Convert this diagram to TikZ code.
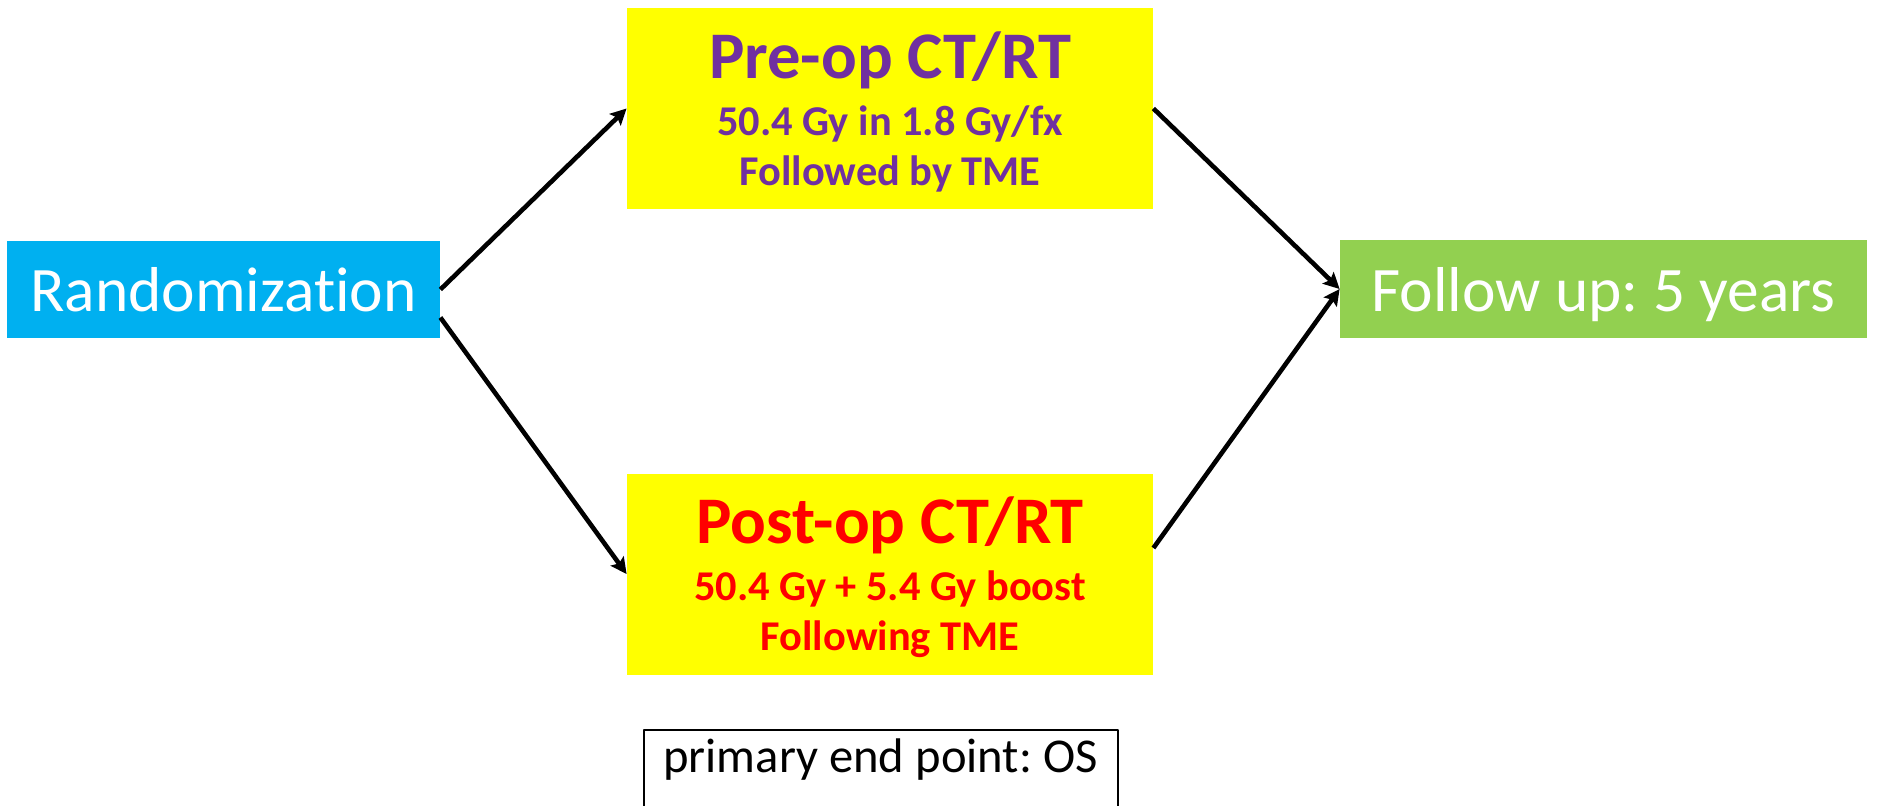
\documentclass[tikz,border=0pt]{standalone}
\usepackage{fontspec}
\setmainfont{Carlito}[Ligatures=NoCommon]
\usetikzlibrary{arrows.meta}
\definecolor{randblue}{HTML}{00B0F0}
\definecolor{fugreen}{HTML}{92D050}
\definecolor{armyellow}{HTML}{FFFF00}
\definecolor{prepurple}{HTML}{7030A0}
\definecolor{postred}{HTML}{FF0000}
\frenchspacing
\begin{document}
\begin{tikzpicture}[x=.5pt, y=-.5pt, line join=round, >={Stealth[length=8pt,width=8pt,inset=1.5pt]},
  bigbox/.style={inner sep=0pt, text=white, text depth=0pt, font=\fontsize{31.7}{38}\selectfont},
  arm/.style={inner sep=0pt, fill=armyellow, minimum width=263pt, minimum height=100.5pt},
  armtext/.style={align=center, font=\bfseries\fontsize{21.2}{25}\selectfont}]
\useasboundingbox (0,0) rectangle (1880,805);
\clip (0,0) rectangle (1880,805);
\node[bigbox, fill=randblue, minimum width=216.5pt, minimum height=48.5pt] (rand) at (223.5,289.5) {Randomization};
\node[arm] (pre) at (890,108.5) {};
\node[arm] (post) at (890,574) {};
% text of the two arms, a little below the box centre
\node[armtext, text=prepurple] (pretxt) at ([yshift=-1.8pt]pre.center)
  {{\fontsize{33.3}{38}\selectfont Pre-op CT/RT}\\[3.5pt] 50.4 Gy in 1.8 Gy/fx\\ Followed by TME};
\node[armtext, text=postred] (posttxt) at ([yshift=-1.8pt]post.center)
  {{\fontsize{33.3}{38}\selectfont Post-op CT/RT}\\[3.5pt] 50.4 Gy + 5.4 Gy boost\\ Following TME};
\node[bigbox, fill=fugreen, minimum width=263.5pt, minimum height=49pt] (fu) at (1603.5,289) {Follow up: 5 years};
% end point box runs off the bottom edge
\node[draw, line width=1pt, anchor=north, minimum width=237pt, inner ysep=4.5pt, text depth=20pt,
  font=\fontsize{24.3}{29}\selectfont] (endpt) at (880.5,728.5) {primary end point: OS};
\draw[->, line width=2.3pt] (rand.east) -- (pre.west);
\draw[->, line width=2.3pt] ([yshift=-14pt]rand.east) -- (post.west);
\draw[->, line width=2.3pt] (pre.east) -- (fu.west);
\draw[->, line width=2.3pt] ([yshift=13pt]post.east) -- (fu.west);
\end{tikzpicture}
\end{document}
